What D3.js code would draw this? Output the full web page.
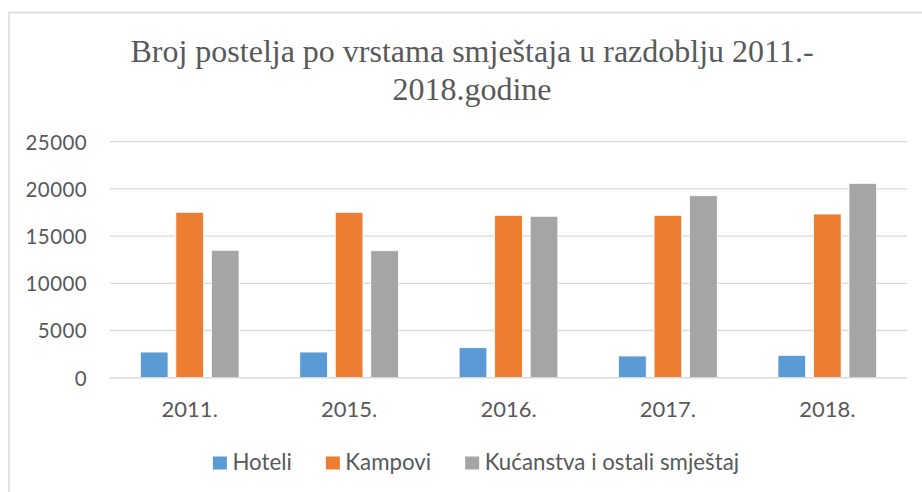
<!DOCTYPE html>
<html>
<head>
<meta charset="utf-8">
<script src="https://cdn.jsdelivr.net/npm/d3@7"></script>
<style>
  html, body { margin: 0; padding: 0; background: #fff; }
  svg { display: block; }
</style>
</head>
<body>
<svg id="chart" width="922" height="492"></svg>
<script>
const categories = ["2011.", "2015.", "2016.", "2017.", "2018."];
const seriesNames = ["Hoteli", "Kampovi", "Kućanstva i ostali smještaj"];
const hoteli = [2720, 2720, 3180, 2300, 2370];
const kampovi = [17520, 17520, 17200, 17200, 17340];
const kucanstva = [13500, 13450, 17100, 19280, 20590];
const yTicks = [0, 5000, 10000, 15000, 20000, 25000];
const titleLines = ["Broj postelja po vrstama smještaja u razdoblju 2011.-", "2018.godine"];
const colors = ["#5B9BD5", "#ED7D31", "#A5A5A5"];

const seriesValues = [hoteli, kampovi, kucanstva];
const svg = d3.select("#chart");

// chart border
svg.append("rect")
  .attr("x", 9).attr("y", 12.5).attr("width", 940).attr("height", 500)
  .attr("fill", "none").attr("stroke", "#d9d9d9").attr("stroke-width", 1.5);

// title
const title = svg.append("text")
  .attr("text-anchor", "middle")
  .attr("font-family", "'Liberation Serif', 'Times New Roman', serif")
  .attr("font-size", 32)
  .attr("fill", "#595959");
titleLines.forEach((t, i) => {
  title.append("tspan").attr("x", 472).attr("y", 61.7 + i * 38).text(t);
});

const plot = { left: 110, right: 907, top: 141.7, bottom: 377.7 };
const y = d3.scaleLinear().domain([0, 25000]).range([plot.bottom, plot.top]);
const x0 = d3.scaleBand().domain(categories).range([plot.left, plot.right]).padding(0);
const groupW = 98.7;
const x1 = d3.scaleBand().domain(seriesNames).range([0, groupW]).paddingInner(0.22).paddingOuter(0);

// gridlines
svg.append("g").selectAll("line").data(yTicks.filter(d => d > 0)).join("line")
  .attr("x1", plot.left).attr("x2", plot.right)
  .attr("y1", d => y(d)).attr("y2", d => y(d))
  .attr("stroke", "#d9d9d9").attr("stroke-width", 1.3);

// y axis labels
const yAxis = d3.axisLeft(y).tickValues(yTicks).tickSize(0).tickPadding(0).tickFormat(d3.format("d"));
const yg = svg.append("g").attr("transform", `translate(87,0)`).call(yAxis);
yg.select(".domain").remove();
yg.selectAll("text")
  .attr("font-family", "Lato, 'Open Sans', sans-serif")
  .attr("font-size", 20.5).attr("letter-spacing", 0.4)
  .attr("fill", "#595959").attr("dy", "0.36em");

// bars
const rows = categories.map((c, i) => ({ c, vals: seriesNames.map((s, j) => ({ s, j, v: seriesValues[j][i] })) }));
svg.append("g").selectAll("g").data(rows).join("g")
  .attr("transform", d => `translate(${x0(d.c) + (x0.bandwidth() - groupW) / 2},0)`)
  .selectAll("rect").data(d => d.vals).join("rect")
  .attr("x", d => x1(d.s)).attr("width", x1.bandwidth())
  .attr("y", d => y(d.v)).attr("height", d => y(0) - y(d.v))
  .attr("fill", d => colors[d.j])
  .attr("stroke", "#ffffff").attr("stroke-width", 0.8);

// x axis line
svg.append("line")
  .attr("x1", plot.left).attr("x2", plot.right)
  .attr("y1", y(0)).attr("y2", y(0))
  .attr("stroke", "#d9d9d9").attr("stroke-width", 1.5);

// x axis labels
const xAxis = d3.axisBottom(x0).tickSize(0).tickPadding(0);
const xg = svg.append("g").attr("transform", `translate(0,416.5)`).call(xAxis);
xg.select(".domain").remove();
xg.selectAll("text")
  .attr("font-family", "Lato, 'Open Sans', sans-serif")
  .attr("font-size", 22).attr("fill", "#595959").attr("dy", 0);

// legend
const legend = svg.append("g");
const items = legend.selectAll("g").data(seriesNames).join("g");
items.append("rect").attr("width", 14).attr("height", 13).attr("y", 456.5)
  .attr("fill", (d, i) => colors[i]);
items.append("text").attr("x", 19.5).attr("y", 469.5)
  .attr("font-family", "Lato, 'Open Sans', sans-serif")
  .attr("font-size", 22.3).attr("fill", "#595959").text(d => d);
const widths = [];
items.each(function() { widths.push(19.5 + d3.select(this).select("text").node().getComputedTextLength()); });
const gap = 34;
const total = d3.sum(widths) + gap * (widths.length - 1);
let cx = 476 - total / 2;
items.attr("transform", (d, i) => { const t = `translate(${cx},0)`; cx += widths[i] + gap; return t; });
</script>
</body>
</html>
